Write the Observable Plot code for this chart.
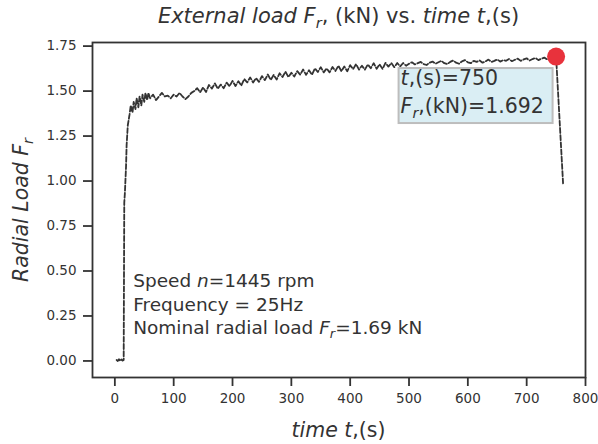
<!DOCTYPE html>
<html><head><meta charset="utf-8">
<script src="https://cdn.jsdelivr.net/npm/d3@7"></script>
<script src="https://cdn.jsdelivr.net/npm/@observablehq/plot@0.6"></script>
<style>body{margin:0;background:#fff} svg text{white-space:pre}</style>
</head><body><div id="chart"></div>
<script>
// time samples (s)
const time = [3,5,7,9,11,13,15,16,17,19,20,22,25,27,30,32,35,37,40,42,45,47,50,52,55,57,60,
65,70,75,80,85,90,95,100,105,110,115,120,125,130,135,
140,145,150,155,160,165,170,175,180,185,190,195,200,205,210,215,220,225,230,235,
240,245,250,255,260,265,270,275,280,285,290,295,300,305,310,315,320,325,330,335,
340,345,350,355,360,365,370,375,380,385,390,395,400,405,410,415,420,425,430,435,
440,445,450,455,460,465,470,475,480,485,490,495,
500,505,510,515,520,525,530,535,540,545,550,555,560,565,570,575,580,585,590,595,
600,605,610,615,620,625,630,635,640,645,650,655,660,665,670,675,680,685,690,695,
700,705,710,715,720,725,730,735,740,745,750,762];
// radial load (kN)
const load = [0.005,0.0,0.01,0.0,0.008,0.002,0.005,0.88,0.93,1.08,1.20,1.31,1.37,1.42,1.38,1.44,1.40,1.46,1.41,1.47,1.42,1.48,1.44,1.49,1.45,1.49,1.46,
1.48,1.45,1.47,1.49,1.47,1.475,1.46,1.48,1.47,1.49,1.47,1.455,1.47,1.49,1.50,
1.516,1.493,1.520,1.495,1.534,1.514,1.543,1.513,1.536,1.516,1.547,1.527,1.557,1.528,1.555,1.531,1.567,1.548,1.576,1.548,
1.572,1.551,1.583,1.561,1.592,1.562,1.590,1.564,1.599,1.578,1.608,1.578,1.602,1.581,1.611,1.591,1.620,1.590,1.616,1.591,
1.626,1.606,1.633,1.604,1.626,1.604,1.634,1.612,1.641,1.610,1.637,1.610,1.644,1.622,1.650,1.619,1.641,1.619,1.648,1.627,
1.655,1.624,1.649,1.623,1.657,1.636,1.656,1.633,1.656,1.637,1.656,1.641,
1.652,1.660,1.648,1.655,1.662,1.650,1.645,1.658,1.664,1.652,1.660,1.668,1.655,1.650,1.662,1.670,1.658,1.652,1.665,1.672,
1.660,1.655,1.668,1.662,1.670,1.658,1.665,1.675,1.662,1.668,1.676,1.664,1.672,1.668,1.678,1.666,1.674,1.680,1.668,1.676,
1.682,1.670,1.678,1.684,1.672,1.680,1.686,1.676,1.684,1.688,1.692,0.98];
const xTicks = [0,100,200,300,400,500,600,700,800];
const yTicks = [0,0.25,0.5,0.75,1.0,1.25,1.5,1.75];
const marker = [{t:750, f:1.692}];
const titleParts = [{t:"External load F",i:true},{t:"r",i:true,sub:true},{t:", (kN) vs. "},{t:"time t",i:true},{t:",(s)"}];
const yLabelParts = [{t:"Radial Load F",i:true},{t:"r",i:true,sub:true}];
const xLabelParts = [{t:"time t",i:true},{t:",(s)"}];
const noteLines = [
  [{t:"Speed "},{t:"n",i:true},{t:"=1445 rpm"}],
  [{t:"Frequency = 25Hz"}],
  [{t:"Nominal radial load "},{t:"F",i:true},{t:"r",i:true,sub:true},{t:"=1.69 kN"}]
];
const boxLines = [
  [{t:"t",i:true},{t:",(s)=750"}],
  [{t:"F",i:true},{t:"r",i:true,sub:true},{t:",(kN)=1.692"}]
];

const data = time.map((t,i)=>({t, f:load[i]}));
const ink = "#333";
const chart = Plot.plot({
  width:598, height:444, marginLeft:92, marginRight:13, marginTop:42, marginBottom:67,
  style:{fontFamily:"DejaVu Sans", fontSize:"13.5px", color:ink, background:"#fff"},
  x:{domain:[-38,800]},
  y:{domain:[-0.092,1.77]},
  marks:[
    Plot.axisX({ticks:xTicks, tickSize:9, tickPadding:7, strokeWidth:1.8, label:null, tickFormat:d=>String(d), fill:ink, fontSize:13.5}),
    Plot.axisY({ticks:yTicks, tickSize:9, tickPadding:7, strokeWidth:1.8, label:null, tickFormat:d3.format(".2f"), fill:ink, fontSize:13.5}),
    Plot.frame({stroke:ink, strokeWidth:1.8}),
    Plot.line(data,{x:"t", y:"f", stroke:ink, strokeWidth:1.8, strokeDasharray:"5,2.2"}),
    Plot.dot(marker,{x:"t", y:"f", r:9, fill:"#e8323c", stroke:"none"})
  ]
});
document.getElementById("chart").append(chart);

const svg = d3.select(chart);
const sx = chart.scale("x"), sy = chart.scale("y");
function rich(x, y, parts, size, anchor="start", rotate=false){
  const t = svg.append("text").attr("x",x).attr("y",y).attr("font-size",size)
    .attr("fill",ink).attr("text-anchor",anchor).attr("font-family","DejaVu Sans");
  if (rotate) t.attr("transform",`rotate(-90 ${x} ${y})`);
  let shift = 0;
  for (const p of parts){
    const s = t.append("tspan").text(p.t);
    if (p.i) s.attr("font-style","italic");
    const want = p.sub ? size*0.22 : 0;
    if (want !== shift){ s.attr("dy", want-shift); shift = want; }
    if (p.sub) s.attr("font-size", size*0.7);
  }
  return t;
}
const cx = (92 + 585)/2;
rich(cx, 23, titleParts, 21, "middle");
rich(cx, 437, xLabelParts, 20.5, "middle");
rich(28, 210, yLabelParts, 20.5, "middle", true);
noteLines.forEach((ln,i)=> rich(sx.apply(32), 287 + i*23.5, ln, 18.5));
// annotation box anchored to the marker
const mx = sx.apply(marker[0].t), my = sy.apply(marker[0].f);
svg.append("rect").attr("x", mx-157).attr("y", my+12).attr("width",154).attr("height",55)
  .attr("fill","#daeef4").attr("stroke","#bdbdbd").attr("stroke-width",2);
boxLines.forEach((ln,i)=> rich(mx-155, my+29+i*28, ln, 20.5));
</script></body></html>
